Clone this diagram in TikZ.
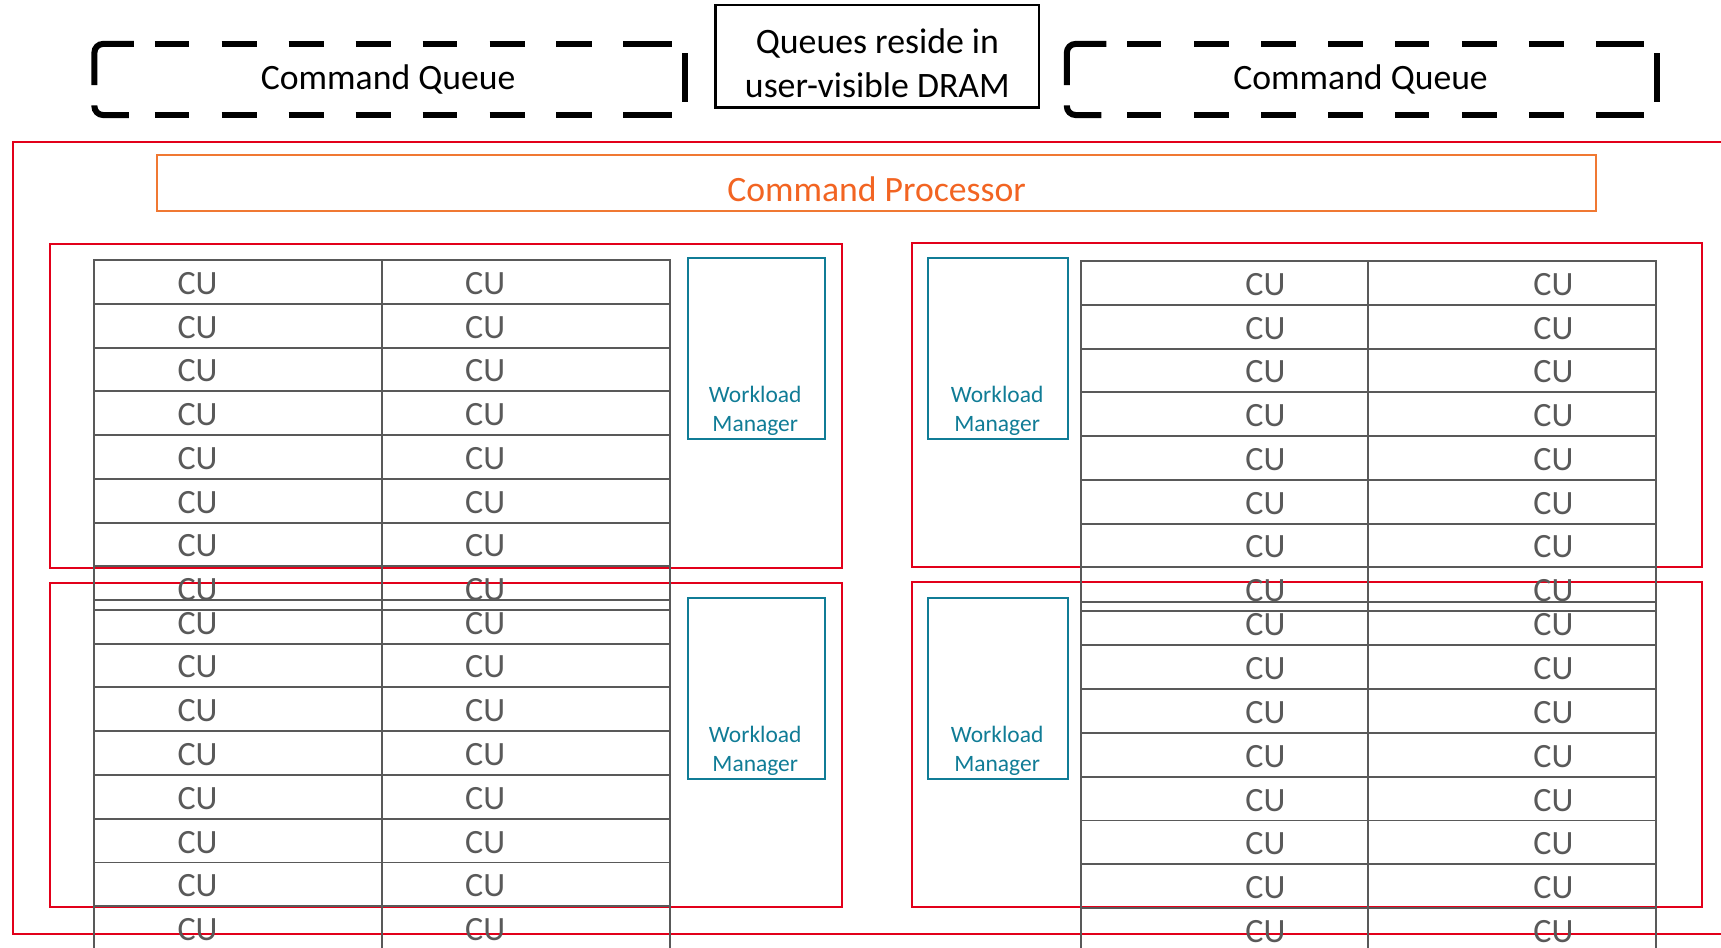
\documentclass[tikz,border=0pt]{standalone}
\usepackage{fontspec}
\setmainfont{Carlito}
\definecolor{rd}{RGB}{226,0,26}
\definecolor{orgline}{RGB}{240,120,50}
\definecolor{orgtxt}{RGB}{242,100,34}
\definecolor{tealc}{RGB}{16,124,150}
\definecolor{cugray}{RGB}{89,89,89}
\tikzset{
  redframe/.style={draw=rd, line width=1.8pt},
  cqline/.style={line width=5.5pt, black},
  cucell/.style={draw=cugray, line width=1.8pt, minimum width=262.2pt, minimum height=39.87pt, inner sep=0pt, outer sep=0pt, anchor=north west},
  cutext/.style={text=cugray, inner sep=0pt, font=\fontsize{31}{37}\selectfont},
  wmbox/.style={draw=tealc, line width=1.8pt, minimum width=125pt, minimum height=165.6pt, inner sep=0pt, anchor=north west},
  wmtext/.style={text=tealc, inner sep=0pt, anchor=base, font=\fontsize{21.4}{26}\selectfont},
  cqtext/.style={inner sep=0pt, anchor=base, font=\fontsize{32.5}{38}\selectfont},
}
\newcommand\mycugridcells[3]{%
  \foreach \r in {0,...,7}{
    \foreach \c in {0,1}{
      \node[cucell] (#1-\r-\c) at ({#2+\c*262.2}, {#3+\r*39.87}) {};
    }
  }}
\newcommand\mycugridtext[5]{%
  \foreach \r in {0,...,7}{
    \node[cutext] (#1-t\r-0) at ({#2+#4}, {#3+\r*39.87+21.3}) {CU};
    \node[cutext] (#1-t\r-1) at ({#2+#5}, {#3+\r*39.87+21.3}) {CU};
  }}
\newcommand\mycqframe{%
  \foreach \a/\b in {141/172,202/234,263/295,324/356,385/416,446/478,507/539,568/612}{
    \draw[cqline] (\a,40) -- (\b,40);
    \draw[cqline] (\a,104.8) -- (\b,104.8);
  }
  \draw[cqline, rounded corners=8pt] (122,40) -- (86,40) -- (86,77.5);
  \draw[cqline, rounded corners=8pt] (86,96) -- (86,104.8) -- (117.5,104.8);
  \draw[cqline] (624,48.6) -- (624,92.6);
}
\begin{document}
\begin{tikzpicture}[x=1pt, y=-1pt]
\useasboundingbox (0,0) rectangle (1568,863.7);
\clip (0,0) rectangle (1568,863.7);

% command queues
\mycqframe
\node[cqtext] (cqL) at (353.6,82) {Command Queue};
\begin{scope}[xshift=886pt]
\mycqframe
\end{scope}
\node[cqtext] (cqR) at (1239.6,82) {Command Queue};

% DRAM box
\node[draw, line width=2.2pt, minimum width=294.8pt, minimum height=93.2pt, inner sep=0pt] (dram) at (799.4,51.3) {};
\node[cqtext, font=\fontsize{32.6}{38}\selectfont] (dram1) at (799.4,49) {Queues reside in};
\node[cqtext, font=\fontsize{32.6}{38}\selectfont] (dram2) at (799.4,89.1) {user-visible DRAM};

% red frames
\draw[redframe] (11.5,129.2) rectangle (1600,851.3);
\draw[redframe] (45.5,222.4) rectangle (767,517.2);
\draw[redframe] (45.5,531.2) rectangle (767,826.2);
\draw[redframe] (830.5,221.2) rectangle (1550.9,516.3);
\draw[redframe] (830.5,530.6) rectangle (1550.9,826);

% command processor
\node[draw=orgline, line width=1.6pt, minimum width=1311.4pt, minimum height=50.8pt, inner sep=0pt] (cp) at (798.7,166.6) {};
\node[cqtext, text=orgtxt] (cpt) at (798.6,183.8) {Command Processor};

% CU grids
\mycugridcells{gL1}{86}{236.9}
\mycugridcells{gL2}{86}{546.6}
\mycugridcells{gR1}{984.5}{237.8}
\mycugridcells{gR2}{984.5}{548.2}
\mycugridtext{gL1}{86}{236.9}{94}{356}
\mycugridtext{gL2}{86}{546.6}{94}{356}
\mycugridtext{gR1}{984.5}{237.8}{168.4}{430.8}
\mycugridtext{gR2}{984.5}{548.2}{168.4}{430.8}

% workload managers
\node[wmbox] (wmL1) at (625.6,233.9) {};
\node[wmtext] (wmL1a) at (688.1,367) {Workload};
\node[wmtext] (wmL1b) at (688.1,392.8) {Manager};
\node[wmbox] (wmL2) at (625.6,543.6) {};
\node[wmtext] (wmL2a) at (688.1,676.7) {Workload};
\node[wmtext] (wmL2b) at (688.1,702.5) {Manager};
\node[wmbox, minimum width=127.8pt] (wmR1) at (844.6,233.9) {};
\node[wmtext] (wmR1a) at (908.5,367) {Workload};
\node[wmtext] (wmR1b) at (908.5,392.8) {Manager};
\node[wmbox, minimum width=127.8pt] (wmR2) at (844.6,543.6) {};
\node[wmtext] (wmR2a) at (908.5,676.7) {Workload};
\node[wmtext] (wmR2b) at (908.5,702.5) {Manager};
\end{tikzpicture}
\end{document}
